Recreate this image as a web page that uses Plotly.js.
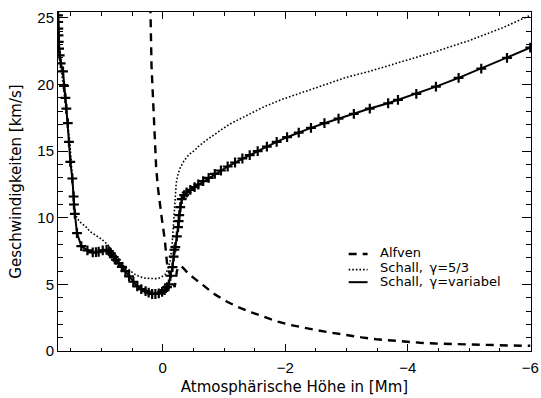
<!DOCTYPE html>
<html>
<head>
<meta charset="utf-8">
<script src="https://cdn.plot.ly/plotly-3.0.1.min.js"></script>
<style>
  html, body { margin: 0; padding: 0; background: #ffffff; }
  #chart { width: 541px; height: 398px; }
</style>
</head>
<body>
<div id="chart"></div>
<script>
// Alfven speed along the height coordinate [Mm] -> [km/s]
const alfvenX = [0.22, 0.2, 0.183, 0.162, 0.13, 0.108, 0.08, 0.05, 0.011, -0.032, -0.07, -0.10, -0.124, -0.16, -0.195,
  -0.215, -0.23, -0.26, -0.30, -0.34, -0.42, -0.53, -0.66, -0.85, -1.05, -1.23, -1.45, -1.66, -1.88, -2.09,
  -2.3, -2.52, -2.75, -3.0, -3.25, -3.49, -3.75, -3.98, -4.2, -4.46, -4.7, -4.95, -5.2, -5.43, -5.7, -6.0];
const alfvenY = [27.0, 25.4, 21.4, 18.9, 16.35, 13.84, 12.3, 11.0, 9.8, 8.4, 6.6, 6.0, 5.65, 5.2, 4.8,
  5.4, 6.0, 6.3, 6.4, 6.2, 5.8, 5.4, 4.95, 4.25, 3.7, 3.3, 2.9, 2.55, 2.2, 1.95,
  1.75, 1.56, 1.38, 1.19, 1.02, 0.88, 0.77, 0.68, 0.62, 0.56, 0.52, 0.48, 0.45, 0.43, 0.41, 0.39];

// Sound speed with gamma = 5/3
const schallConstX = [1.712, 1.705, 1.695, 1.675, 1.64, 1.60, 1.56, 1.52, 1.495, 1.48, 1.466, 1.45, 1.42, 1.386,
  1.33, 1.25, 1.196, 1.09, 1.0, 0.926, 0.873, 0.82, 0.765, 0.711, 0.65, 0.55, 0.47, 0.388, 0.30, 0.226,
  0.15, 0.1, 0.04, 0.0, -0.04, -0.08, -0.12, -0.15, -0.17, -0.185, -0.20, -0.22, -0.25, -0.29, -0.35,
  -0.43, -0.53, -0.58, -0.72, -0.85, -1.0, -1.12, -1.39, -1.66, -1.93, -2.2, -2.47, -2.74, -3.0,
  -3.38, -3.92, -4.46, -5.0, -5.54, -6.0];
const schallConstY = [26.0, 24.5, 23.0, 21.8, 20.6, 19.0, 17.3, 15.8, 14.3, 13.0, 11.8, 10.9, 10.2, 9.9,
  9.6, 9.3, 9.0, 8.7, 8.4, 8.1, 7.85, 7.5, 7.1, 6.8, 6.45, 6.05, 5.8, 5.6, 5.48, 5.45,
  5.42, 5.43, 5.5, 5.6, 5.75, 6.1, 6.7, 7.8, 9.2, 10.5, 11.7, 12.6, 13.3, 13.8, 14.3,
  14.75, 15.1, 15.35, 15.85, 16.3, 16.75, 17.1, 17.73, 18.35, 18.86, 19.28, 19.74, 20.16, 20.55,
  21.0, 21.74, 22.49, 23.3, 24.25, 25.2];

// Sound speed with variable gamma (grid points marked)
const schallVarX = [1.712, 1.709, 1.707, 1.705, 1.702, 1.698, 1.692, 1.682, 1.665, 1.628, 1.612, 1.589, 1.573,
  1.55, 1.531, 1.509, 1.476, 1.455, 1.45, 1.435, 1.40, 1.33, 1.23, 1.143, 1.09, 1.046, 0.98, 0.917, 0.88,
  0.846, 0.80, 0.765, 0.72, 0.668, 0.61, 0.55, 0.48, 0.415, 0.35, 0.28, 0.23, 0.173, 0.12, 0.065, 0.01,
  -0.03, -0.07, -0.10, -0.124, -0.16, -0.178, -0.19, -0.205, -0.23, -0.25, -0.26, -0.27, -0.286, -0.31,
  -0.35, -0.39, -0.45, -0.52, -0.58, -0.66, -0.75, -0.85, -0.95, -1.06, -1.18, -1.30, -1.42, -1.55,
  -1.70, -1.86, -2.03, -2.22, -2.42, -2.64, -2.87, -3.12, -3.38, -3.68, -3.84, -4.14, -4.46, -4.83,
  -5.2, -5.62, -6.0];
const schallVarY = [26.0, 25.2, 24.7, 24.2, 23.7, 23.2, 22.7, 22.2, 21.6, 21.0, 19.9, 19.0, 18.2,
  17.1, 15.7, 14.2, 12.95, 11.6, 11.0, 10.3, 8.85, 7.88, 7.55, 7.40, 7.42, 7.45, 7.55, 7.6, 7.5,
  7.33, 7.05, 6.85, 6.6, 6.32, 6.0, 5.6, 5.2, 4.85, 4.65, 4.5, 4.38, 4.28, 4.28, 4.33, 4.44,
  4.57, 4.8, 5.0, 5.65, 6.3, 7.08, 7.6, 7.8, 8.6, 9.3, 9.75, 10.2, 10.8, 11.4,
  11.7, 11.9, 12.1, 12.3, 12.5, 12.75, 13.0, 13.3, 13.55, 13.85, 14.15, 14.45, 14.7, 15.0,
  15.35, 15.7, 16.05, 16.4, 16.75, 17.1, 17.45, 17.8, 18.2, 18.6, 18.85, 19.3, 19.85, 20.5,
  21.2, 22.0, 22.77];

const seriesNames = ['Alfven', 'Schall,\u2002\u03b3=5/3', 'Schall,\u2002\u03b3=variabel'];
const xTickVals = [0, -2, -4, -6];
const yTickVals = [0, 5, 10, 15, 20, 25];

const TICK_FONT = 'Liberation Sans, Arial, Helvetica, sans-serif';
const TEXT_FONT = 'DejaVu Sans, Verdana, sans-serif';
const dashStyles = ['8px,6px', '1.6px,2px', 'solid'];
const lineWidths = [2.4, 1.6, 2];

const traces = [
  { x: alfvenX, y: alfvenY, name: seriesNames[0], mode: 'lines',
    line: { color: '#000', width: lineWidths[0], dash: dashStyles[0] } },
  { x: schallConstX, y: schallConstY, name: seriesNames[1], mode: 'lines',
    line: { color: '#000', width: lineWidths[1], dash: dashStyles[1] } },
  { x: schallVarX, y: schallVarY, name: seriesNames[2], mode: 'lines+markers',
    line: { color: '#000', width: lineWidths[2] },
    marker: { symbol: 'cross-thin', size: 7, color: '#000', line: { color: '#000', width: 2.2 } } }
];

// hand-drawn legend: short line sample + label per series
const legX0 = 0.6145, legX1 = 0.6545, legTextX = 0.6795;
const legRowY = [0.2905, 0.2476, 0.2047];
const legLineY = [0.2860, 0.2400, 0.2030];
const shapes = seriesNames.map((n, i) => ({
  type: 'line', xref: 'paper', yref: 'paper',
  x0: legX0, x1: legX1, y0: legLineY[i], y1: legLineY[i],
  line: { color: '#000', width: lineWidths[i], dash: dashStyles[i] }
}));
const annotations = seriesNames.map((n, i) => ({
  text: n, xref: 'paper', yref: 'paper', x: legTextX, y: legRowY[i],
  xanchor: 'left', yanchor: 'middle', showarrow: false, borderpad: 0,
  font: { family: TEXT_FONT, size: 13, color: '#000' }
}));

const layout = {
  width: 541, height: 398,
  margin: { l: 58, r: 10, t: 12, b: 47 },
  paper_bgcolor: '#fff', plot_bgcolor: '#fff',
  showlegend: false,
  font: { family: TICK_FONT, size: 15, color: '#000' },
  xaxis: {
    range: [1.71, -6.012], autorange: false,
    tickvals: xTickVals, ticks: 'inside', ticklen: 7, tickwidth: 1, tickcolor: '#000',
    minor: { dtick: 0.5, tick0: 0, ticks: 'inside', ticklen: 3.5, tickwidth: 1, tickcolor: '#000' },
    showline: true, linecolor: '#000', linewidth: 1, mirror: 'ticks',
    showgrid: false, zeroline: false, ticklabelstandoff: 3, ticklabeloverflow: 'allow',
    tickfont: { family: TICK_FONT, size: 15 },
    title: { text: 'Atmosph\u00e4rische H\u00f6he in [Mm]', font: { family: TEXT_FONT, size: 15 }, standoff: 6 }
  },
  yaxis: {
    range: [0, 25.45], autorange: false,
    tickvals: yTickVals, ticks: 'inside', ticklen: 9.5, tickwidth: 1, tickcolor: '#000',
    minor: { dtick: 1, tick0: 0, ticks: 'inside', ticklen: 4.8, tickwidth: 1, tickcolor: '#000' },
    showline: true, linecolor: '#000', linewidth: 1, mirror: 'ticks',
    showgrid: false, zeroline: false,
    tickfont: { family: TICK_FONT, size: 15 },
    title: { text: 'Geschwindigkeiten [km/s]', font: { family: TEXT_FONT, size: 15 }, standoff: 12 }
  },
  shapes: shapes,
  annotations: annotations
};

Plotly.newPlot('chart', traces, layout, { displayModeBar: false, staticPlot: true });
</script>
</body>
</html>
